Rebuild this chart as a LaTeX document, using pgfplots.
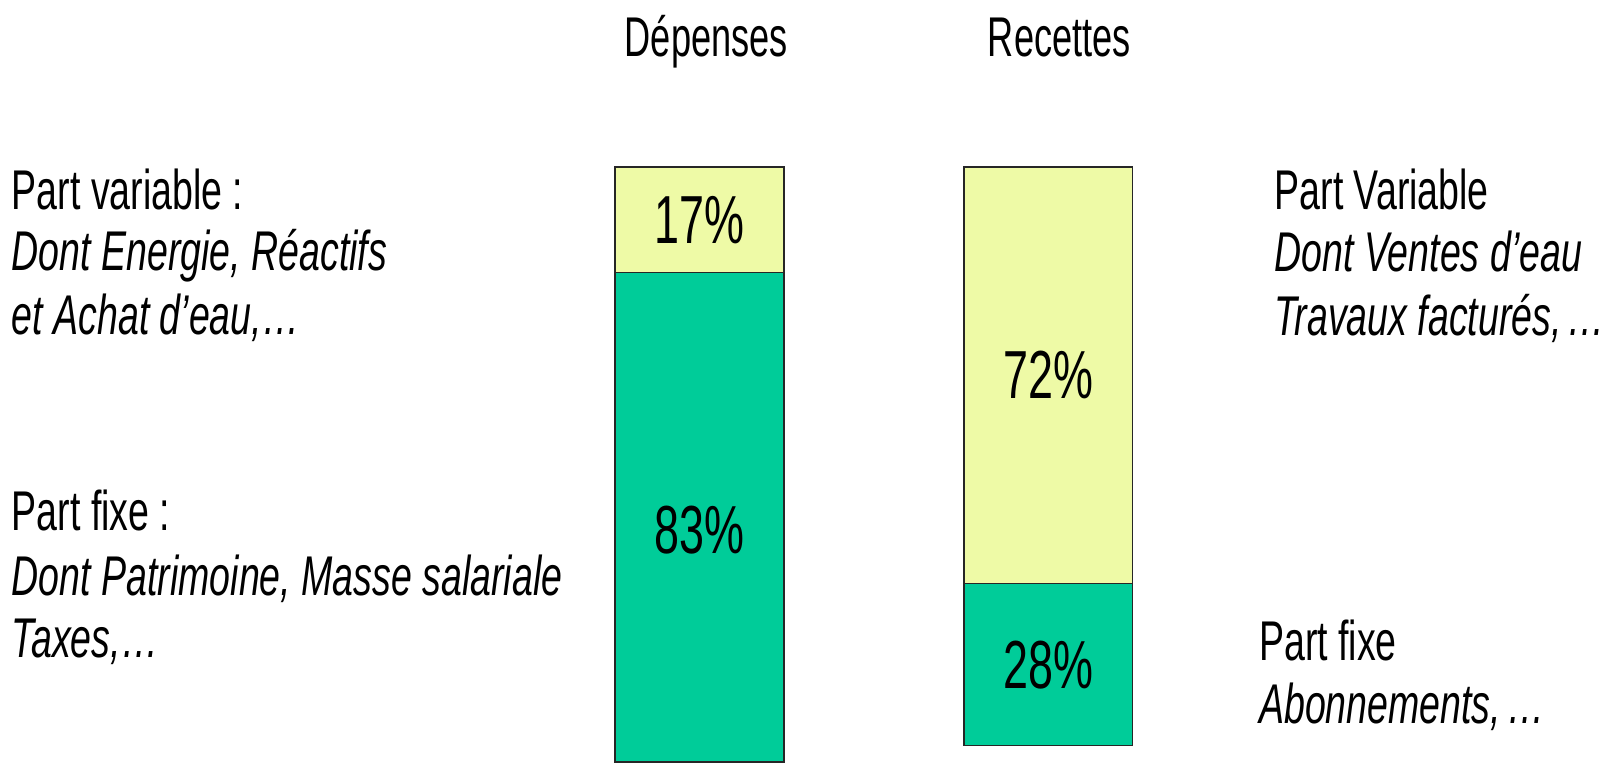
\documentclass[border=0pt]{standalone}
\usepackage{fontspec}
\setmainfont{Liberation Sans}
\usepackage{pgfplots}
\pgfplotsset{compat=1.18}
\definecolor{partvar}{RGB}{238,250,166}
\definecolor{partfixe}{RGB}{0,204,153}
\begin{document}
\begin{tikzpicture}[
  txt/.style={font=\fontsize{28}{30}\selectfont, anchor=base west, inner sep=0pt, xscale=0.67},
  ttl/.style={font=\fontsize{28}{30}\selectfont, anchor=base, inner sep=0pt, xscale=0.646},
  pct/.style={font=\fontsize{34}{36}\selectfont, inner sep=0pt, xscale=0.66},
]
\pgfplotsset{
  panel/.style={
    name=#1, at={(0,0)}, anchor=south west,
    width=802.5pt, height=381pt, scale only axis,
    hide axis, xmin=-2.0073, xmax=2.5977,
    ybar stacked, bar width=84.4pt,
  },
  fixe/.style={fill=partfixe, draw=black!85, line width=0.8pt},
  var/.style={fill=partvar, draw=black!85, line width=0.8pt},
}
% Dépenses: fixed and variable shares
\begin{axis}[panel=dep, ymin=4.125, ymax=126.9]
  \addplot[fixe] coordinates {(0,83)};
  \addplot[var]  coordinates {(0,17)};
  \coordinate (d-fixe) at (axis cs:0,41.5);
  \coordinate (d-var)  at (axis cs:0,91.5);
\end{axis}
% Recettes: fixed and variable shares
\begin{axis}[panel=rec, ymin=-2.83, ymax=128.85, clip=false]
  \addplot[fixe] coordinates {(1,28)};
  \addplot[var]  coordinates {(1,72)};
  \coordinate (r-fixe) at (axis cs:1,14);
  \coordinate (r-var)  at (axis cs:1,64);

  \node[ttl] at (rel axis cs:0.440,0.9254) {Dépenses};
  \node[ttl] at (rel axis cs:0.660,0.9254) {Recettes};

  \node[txt] at (rel axis cs:0.0072,0.7251) {Part variable :};
  \node[txt] at (rel axis cs:0.0072,0.6454) {\itshape Dont Energie, Réactifs};
  \node[txt] at (rel axis cs:0.0072,0.5605) {\itshape et Achat d’eau,…};
  \node[txt] at (rel axis cs:0.0072,0.3032) {Part fixe :};
  \node[txt] at (rel axis cs:0.0072,0.2191) {\itshape Dont Patrimoine, Masse salariale};
  \node[txt] at (rel axis cs:0.0072,0.1371) {\itshape Taxes,…};

  \node[txt] at (rel axis cs:0.7940,0.7245) {Part Variable};
  \node[txt] at (rel axis cs:0.7940,0.6433) {\itshape Dont Ventes d’eau};
  \node[txt] at (rel axis cs:0.7940,0.5601) {\itshape Travaux facturés,\,…};
  \node[txt] at (rel axis cs:0.7844,0.1333) {Part fixe};
  \node[txt] at (rel axis cs:0.7844,0.0503) {\itshape Abonnements,\,…};
\end{axis}
% share labels, centred in each segment
\node[pct] at (d-fixe) {83\%};
\node[pct] at (d-var)  {17\%};
\node[pct] at (r-fixe) {28\%};
\node[pct] at (r-var)  {72\%};
\pgfresetboundingbox
\path (rec.south west) rectangle (rec.north east);
\end{tikzpicture}
\end{document}
